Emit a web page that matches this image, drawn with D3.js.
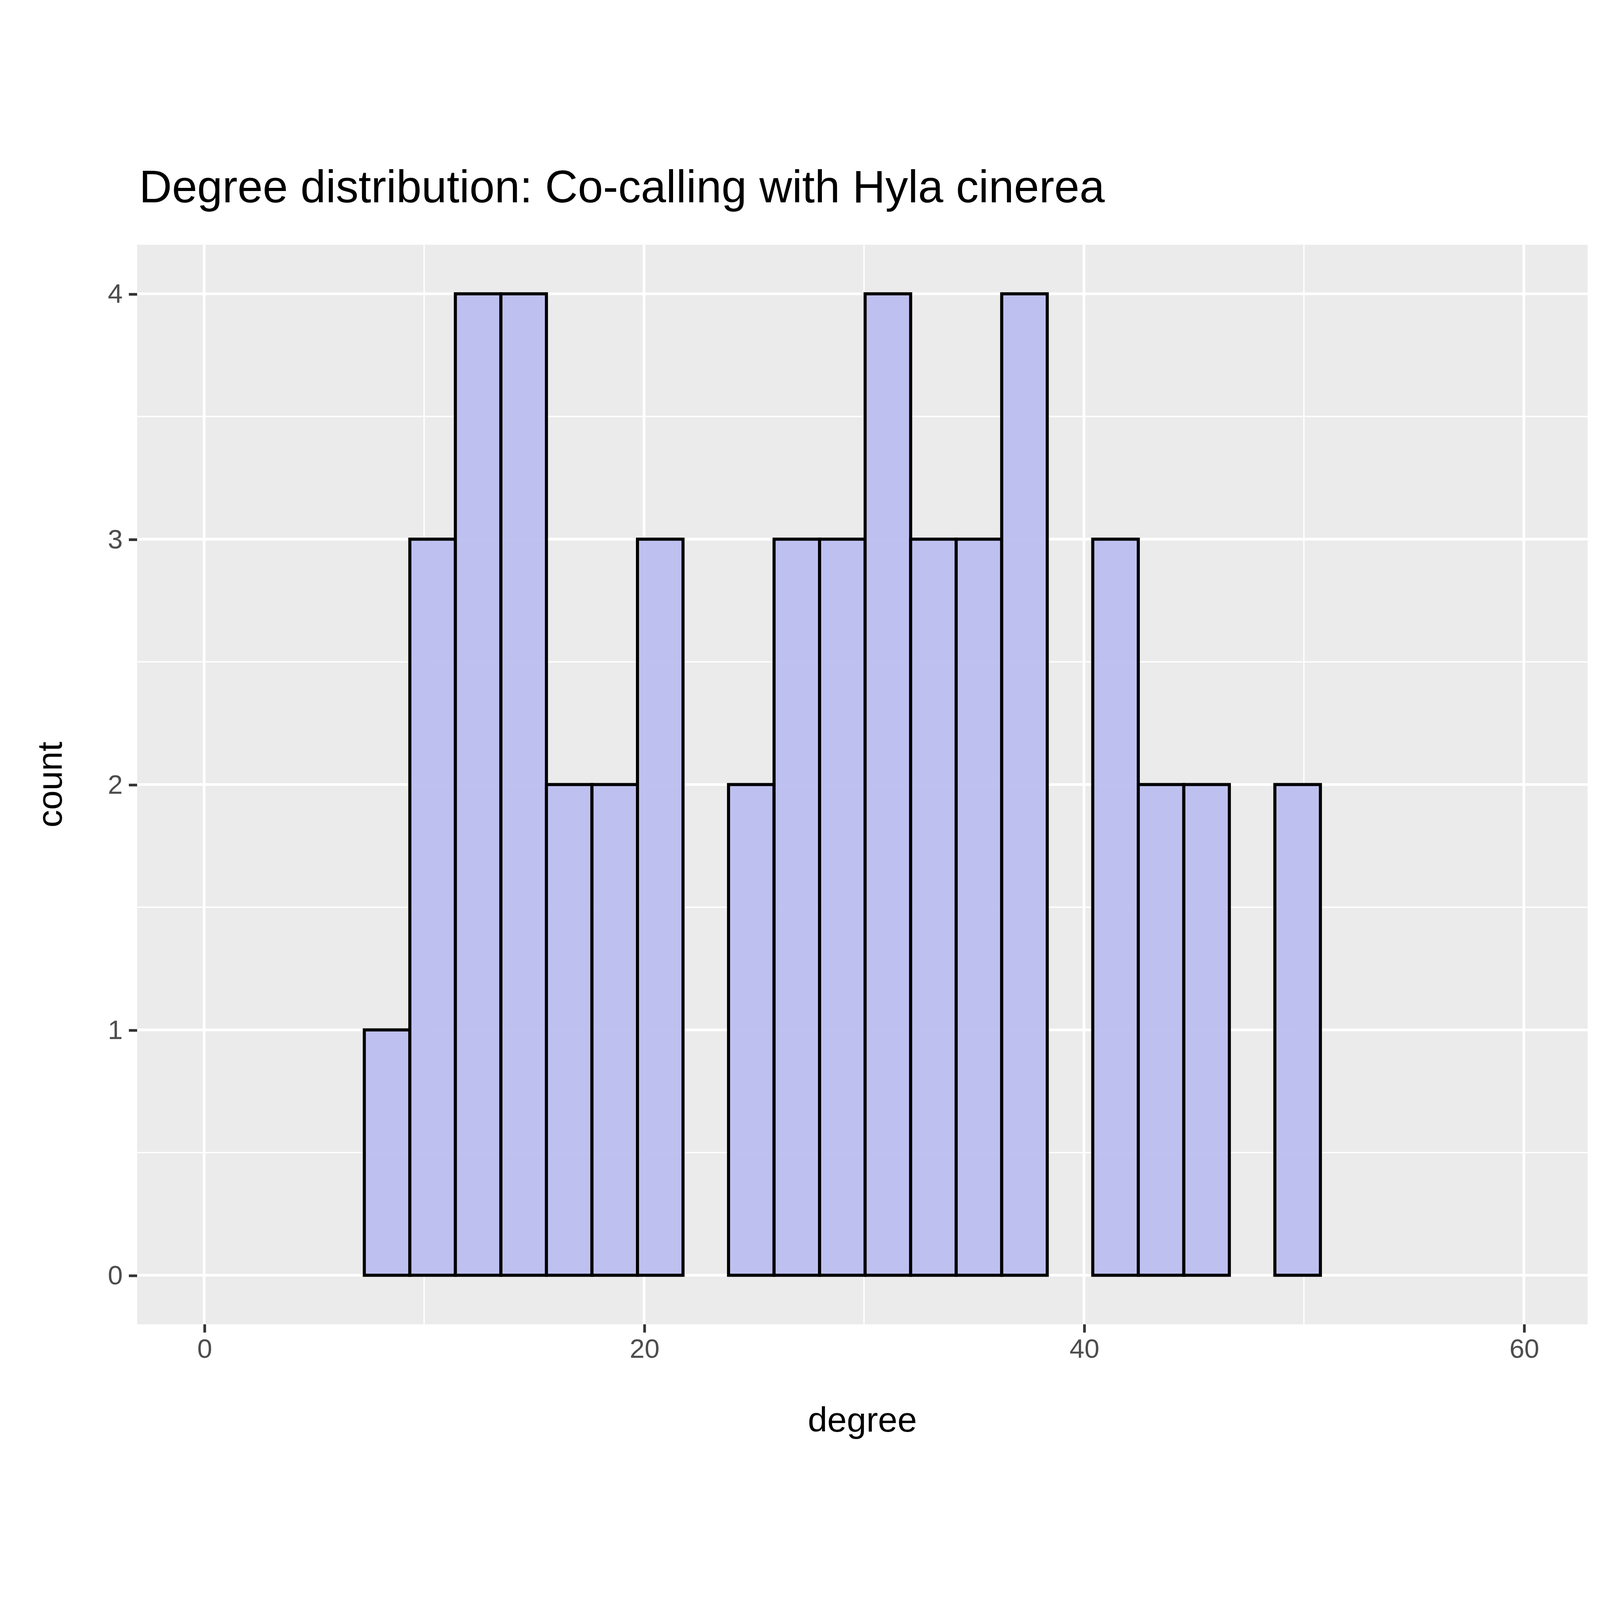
<!DOCTYPE html>
<html><head><meta charset="utf-8">
<script src="https://cdn.jsdelivr.net/npm/d3@7"></script>
<style>html,body{margin:0;padding:0;background:#fff;overflow:hidden}svg{display:block}</style>
</head><body>
<script>
// histogram bins (degree)
var binStart = 1.07, binWidth = 2.07;
var counts = [0,0,0,1,3,4,4,2,2,3,0,2,3,3,4,3,3,4,0,3,2,2,0,2,0,0,0,0];
var xTicks = [0,20,40,60], yTicks = [0,1,2,3,4];
var xMinor = [10,30,50], yMinor = [0.5,1.5,2.5,3.5];

var W = 1552, H = 1293.2;
var margin = {top: 108, right: 12, bottom: 138, left: 133};
var width = W - margin.left - margin.right, height = H - margin.top - margin.bottom;

var svg = d3.select("body").append("svg")
    .attr("width", "100vw").attr("height", "100vh")
    .attr("viewBox", "0 0 " + W + " " + H)
    .attr("preserveAspectRatio", "xMidYMid meet")
    .style("font-family", "Liberation Sans, Arial, sans-serif");

var x = d3.scaleLinear().domain([-3.05, 62.9]).range([0, width]);
var y = d3.scaleLinear().domain([-0.2, 4.2]).range([height, 0]);

var g = svg.append("g").attr("transform", "translate(" + margin.left + "," + margin.top + ")");
g.append("rect").attr("width", width).attr("height", height).attr("fill", "#ebebeb");

// grid
g.selectAll(".xminor").data(xMinor).enter().append("line")
    .attr("x1", x).attr("x2", x).attr("y1", 0).attr("y2", height)
    .attr("stroke", "#fff").attr("stroke-width", 1.3);
g.selectAll(".yminor").data(yMinor).enter().append("line")
    .attr("y1", y).attr("y2", y).attr("x1", 0).attr("x2", width)
    .attr("stroke", "#fff").attr("stroke-width", 1.3);
g.selectAll(".xmajor").data(xTicks).enter().append("line")
    .attr("x1", x).attr("x2", x).attr("y1", 0).attr("y2", height)
    .attr("stroke", "#fff").attr("stroke-width", 2.6);
g.selectAll(".ymajor").data(yTicks).enter().append("line")
    .attr("y1", y).attr("y2", y).attr("x1", 0).attr("x2", width)
    .attr("stroke", "#fff").attr("stroke-width", 2.6);

// bars
g.selectAll(".bar").data(counts).enter().append("rect")
    .attr("x", function(d, i) { return x(binStart + i * binWidth); })
    .attr("width", x(binWidth) - x(0))
    .attr("y", function(d) { return y(d); })
    .attr("height", function(d) { return y(0) - y(d); })
    .attr("fill", "#bcbff0").attr("fill-opacity", 0.95)
    .attr("stroke", "#000").attr("stroke-width", 3);

// axes
var xAxis = g.append("g").attr("transform", "translate(0," + height + ")")
    .call(d3.axisBottom(x).tickValues(xTicks).tickFormat(d3.format("d")).tickSizeInner(8).tickSizeOuter(0).tickPadding(6));
var yAxis = g.append("g")
    .call(d3.axisLeft(y).tickValues(yTicks).tickFormat(d3.format("d")).tickSizeInner(8).tickSizeOuter(0).tickPadding(6));
[xAxis, yAxis].forEach(function(a) {
  a.select(".domain").remove();
  a.selectAll("line").attr("stroke", "#333").attr("stroke-width", 2.6);
  a.selectAll("text").attr("fill", "#4d4d4d").style("font-size", "26px");
});

svg.append("text").attr("x", margin.left + width / 2).attr("y", H - 34)
    .attr("text-anchor", "middle").style("font-size", "34px").text("degree");
svg.append("text").attr("transform", "translate(60," + (margin.top + height / 2) + ") rotate(-90)")
    .attr("text-anchor", "middle").style("font-size", "34px").text("count");
svg.append("text").attr("x", 135).attr("y", 67)
    .style("font-size", "44px").text("Degree distribution: Co-calling with Hyla cinerea");
</script>
</body></html>
